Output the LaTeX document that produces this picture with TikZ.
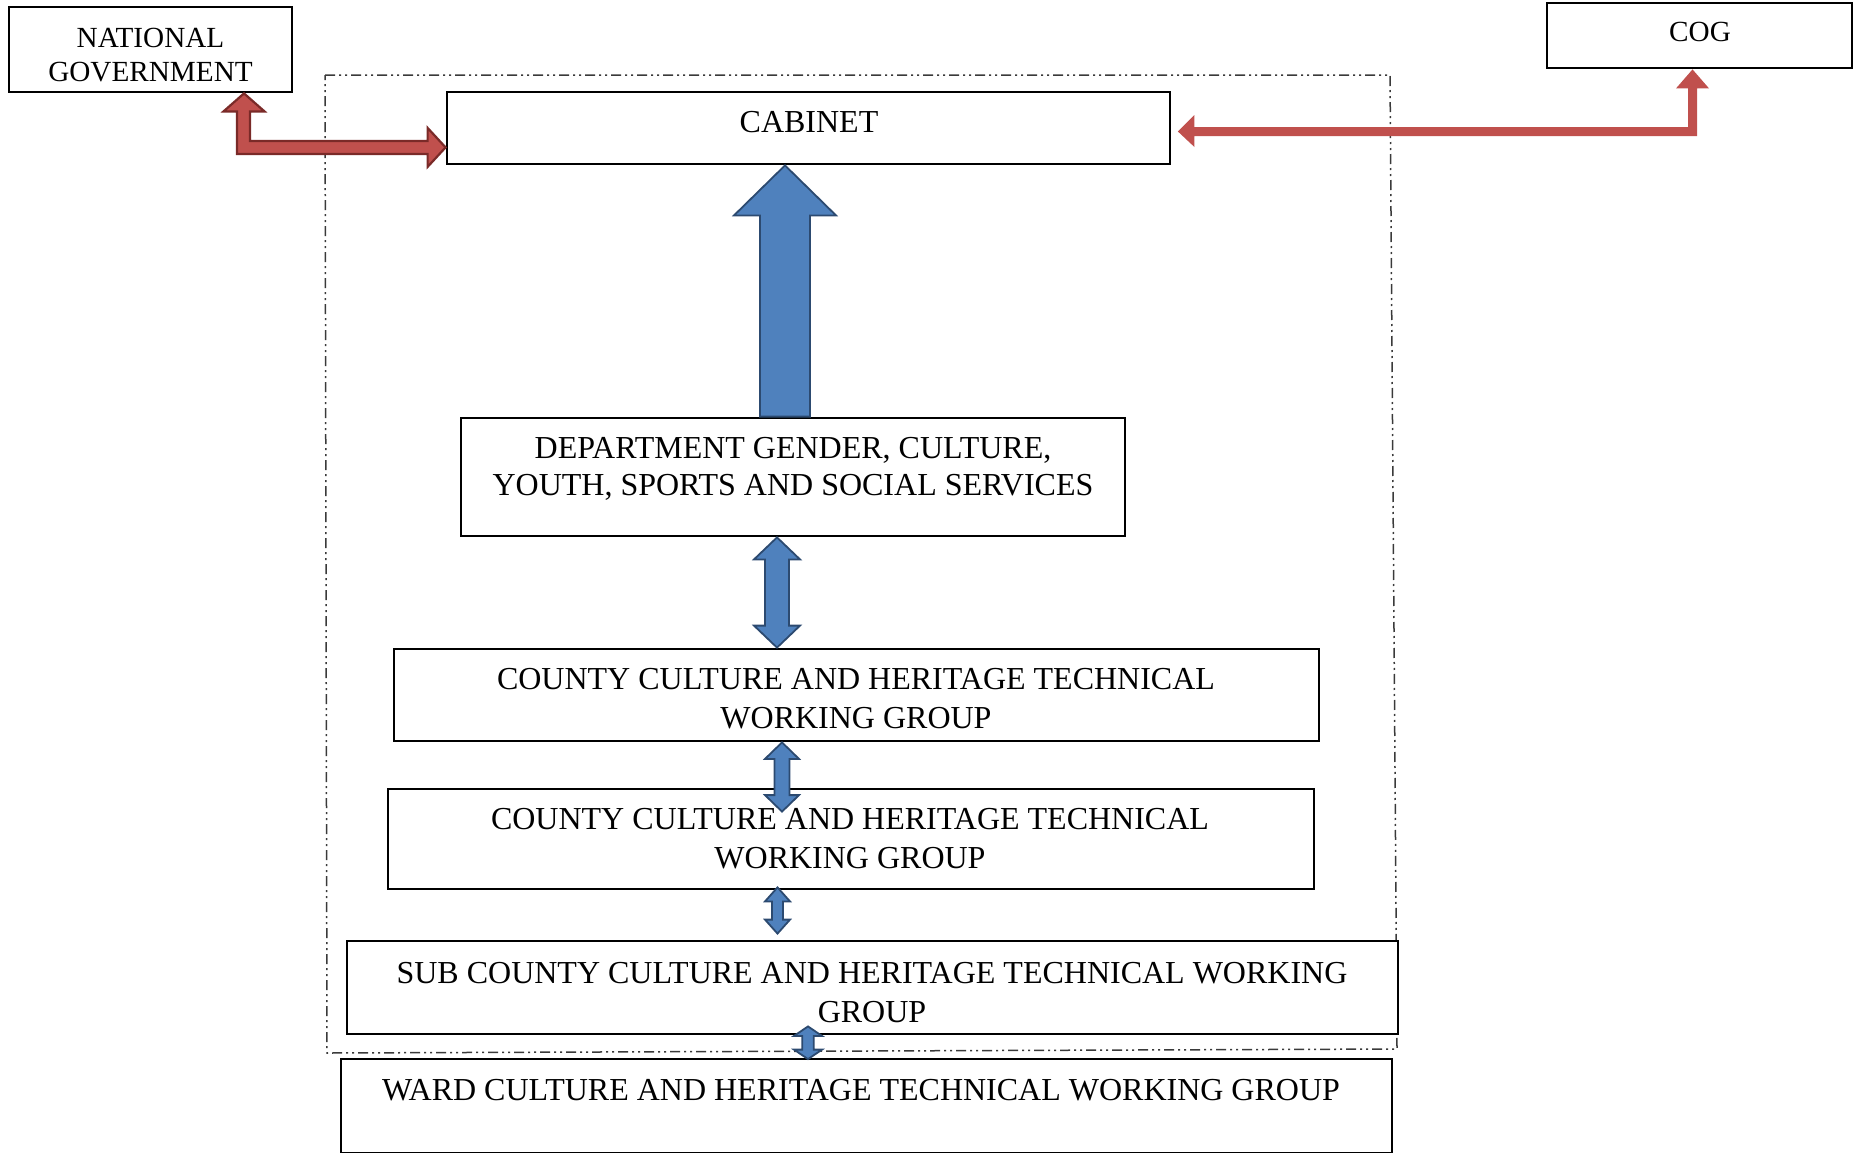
\documentclass[tikz,border=0pt]{standalone}
\usepackage{fontspec}
\setmainfont{Liberation Serif}
\usetikzlibrary{calc,fit}
\definecolor{bluefill}{HTML}{4F81BD}
\definecolor{blueline}{HTML}{2C4A70}
\definecolor{redfill}{HTML}{C0504D}
\definecolor{redline}{HTML}{7A2A28}
\definecolor{framegray}{HTML}{3A3A3A}
\newcommand{\vdblarrow}[6]{%
  \draw[#1] (#2) -- ($(#2)+(#5,#6)$) -- ($(#2)+(#4,#6)$) -- ($(#3)+(#4,-#6)$) -- ($(#3)+(#5,-#6)$) -- (#3)
    -- ($(#3)+(-#5,-#6)$) -- ($(#3)+(-#4,-#6)$) -- ($(#2)+(-#4,#6)$) -- ($(#2)+(-#5,#6)$) -- cycle;}
\begin{document}
\begin{tikzpicture}[x=0.5pt,y=-0.5pt,
  box/.style={draw=black, fill=white, line width=1.4pt, inner sep=0pt},
  txt/.style={anchor=north, inner sep=0pt, align=center, font=\fontsize{16}{19.5}\selectfont},
  smalltxt/.style={anchor=north, inner sep=0pt, align=center, font=\fontsize{14.6}{17}\selectfont},
  bluearrow/.style={fill=bluefill, draw=blueline, line width=0.9pt, line join=miter},
  redarrow/.style={fill=redfill, draw=redline, line width=1.1pt, line join=miter},
  redplain/.style={fill=redfill, draw=none},
  groupframe/.style={draw=framegray, line width=0.75pt, dash pattern=on 5pt off 2pt on 1pt off 2pt on 1pt off 2pt}
]
\useasboundingbox (0,0) rectangle (1861,1152);

% dash-dot group frame
\draw[groupframe] (325,75) -- (1390,75) -- (1397,1049) -- (327,1053) -- cycle;

% boxes
\node[box, fit={(9,7) (292,92)}] (nat) {};
\node[box, fit={(1547,3) (1852,68)}] (cog) {};
\node[box, fit={(447,92) (1170,164)}] (cab) {};
\node[box, fit={(461,418) (1125,536)}] (dept) {};
\node[box, fit={(394,649) (1319,741)}] (cone) {};
\node[box, fit={(388,789) (1314,889)}] (ctwo) {};
\node[box, fit={(347,941) (1398,1034)}] (sub) {};
\node[box, fit={(341,1059) (1392,1153)}] (ward) {};

% texts
\node[smalltxt] (nat-t) at (150.5,27.5) {NATIONAL\\GOVERNMENT};
\node[smalltxt] (cog-t) at (1700,22) {COG};
\node[txt] (cab-t) at (809,111) {CABINET};
\node[txt, font=\fontsize{16}{18.5}\selectfont] (dept-t) at (793,436.5) {DEPARTMENT GENDER, CULTURE,\\YOUTH, SPORTS AND SOCIAL SERVICES};
\node[txt] (cone-t) at (856,668) {COUNTY CULTURE AND HERITAGE TECHNICAL\\WORKING GROUP};
\node[txt] (ctwo-t) at (850,808) {COUNTY CULTURE AND HERITAGE TECHNICAL\\WORKING GROUP};
\node[txt] (sub-t) at (872,962) {SUB COUNTY CULTURE AND HERITAGE TECHNICAL WORKING\\GROUP};
\node[txt] (ward-t) at (861,1079) {WARD CULTURE AND HERITAGE TECHNICAL WORKING GROUP};

% red connectors
\coordinate (natup) at (244,0 |- nat.south);
\coordinate (natright) at ($(cab.south west)+(0,-18)$);
\draw[redarrow] (natup) -- ++(20.5,18) -- ++(-14.5,0) |- ($(natright)+(-18,-6.5)$) -- ++(0,-13)
  -- (natright) -- ++(-18,19.5) -- ++(0,-13) -| ($(natup)+(-7,18)$) -- ++(-13.5,0) -- cycle;

\coordinate (cogup) at (1692.5,0 |- cog.south);
\coordinate (cogleft) at ($(cab.east)+(6.5,3.5)$);
\draw[redplain] (cogup) -- ++(16.5,19) -- ++(-12,0) |- ($(cogleft)+(16.5,4.5)$) -- ++(0,11)
  -- (cogleft) -- ++(16.5,-16.5) -- ++(0,12) -| ($(cogup)+(-4.5,19)$) -- ++(-12,0) -- cycle;

% blue connectors
\coordinate (bigb) at (785,0 |- dept.north);
\coordinate (bigt) at (785,0 |- cab.south);
\draw[bluearrow] (bigt) -- ++(51,50) -- ++(-26,0) -- ($(bigb)+(25,0)$) -- ($(bigb)+(-25,0)$)
  -- ($(bigt)+(-25,50)$) -- ++(-26,0) -- cycle;

\coordinate (a2t) at (777,0 |- dept.south);
\coordinate (a2b) at (777,0 |- cone.north);
\vdblarrow{bluearrow}{a2t}{a2b}{12}{23}{22}

\coordinate (a3t) at (782,0 |- cone.south);
\coordinate (a3b) at ($(782,0 |- ctwo.north)+(0,24)$);
\vdblarrow{bluearrow}{a3t}{a3b}{7.5}{17}{16.5}

\coordinate (a4t) at ($(777.5,0 |- ctwo.south)+(0,-3)$);
\coordinate (a4b) at ($(777.5,0 |- sub.north)+(0,-6)$);
\vdblarrow{bluearrow}{a4t}{a4b}{5.5}{12.5}{14}

\coordinate (a5t) at ($(808,0 |- sub.south)+(0,-9)$);
\coordinate (a5b) at ($(808,0 |- ward.north)+(0,1.5)$);
\vdblarrow{bluearrow}{a5t}{a5b}{5.7}{14}{9.5}
\end{tikzpicture}
\end{document}
